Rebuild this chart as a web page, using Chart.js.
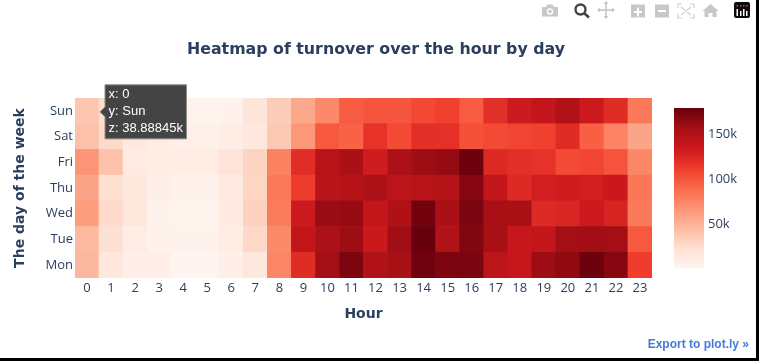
<!DOCTYPE html>
<html>
<head>
<meta charset="utf-8">
<script src="https://cdn.jsdelivr.net/npm/chart.js@4"></script>
<style>
html,body{margin:0;padding:0;background:#000;width:759px;height:361px;overflow:hidden}
#page{position:absolute;left:0;top:0;width:756px;height:358px;background:#fff;overflow:hidden}
#main{position:absolute;left:0;top:0}
#bar{position:absolute;left:660px;top:92px}
#tools{position:absolute;left:0;top:0}
#export{position:absolute;right:7px;top:337px;font:bold 12px "Liberation Sans",Arial,sans-serif;color:#447adb;white-space:nowrap}
</style>
</head>
<body>
<div id="page">
<canvas id="main" width="756" height="358" style="width:756px;height:358px"></canvas>
<canvas id="bar" width="80" height="192" style="width:80px;height:192px"></canvas>
<svg id="tools" width="756" height="24" viewBox="0 0 756 24">
  <g fill="#c8c8c8">
    <path d="M542 7h4l1.5-2.5h5L554 7h4v9.5h-16z"/>
    <circle cx="550" cy="11.5" r="3.2" fill="#fff"/>
    <circle cx="550" cy="11.5" r="1.8"/>
    <path d="M606 2l2.5 3h-1.7v5.2H612V8.5l3 2.5-3 2.5v-1.6h-5.2V17h1.7l-2.5 3-2.5-3h1.7v-5.1H600v1.6l-3-2.5 3-2.5v1.7h5.2V5h-1.7z" transform="translate(0 -1)"/>
    <path fill-rule="evenodd" d="M631 5h14v13h-14zM637 8v3.5h-3v2h3V17h2v-3.5h3v-2h-3V8z" transform="translate(0 -0.5)"/>
    <path fill-rule="evenodd" d="M655 5h14v13h-14zM658 10.5v2h8v-2z" transform="translate(0 -0.5)"/>
    <path d="M711 4l8 7h-2v6h-4v-4h-4v4h-4v-6h-2z" transform="translate(-0.5 0)"/>
  </g>
  <g fill="none" stroke="#d2d2d2" stroke-width="1.2">
    <path d="M678 8V4h4M690 4h4v4M694 14v4h-4M682 18h-4v-4M681 7l10 8M691 7l-10 8"/>
  </g>
  <circle cx="580.5" cy="9.5" r="5" fill="none" stroke="#444" stroke-width="2.4"/>
  <path d="M584 13l5 4.5" stroke="#444" stroke-width="2.6"/>
  <rect x="734" y="2" width="16" height="16" rx="2" fill="#0b0b0b"/>
  <g fill="#fff"><rect x="736.5" y="9" width="1.5" height="7"/><rect x="740" y="11" width="1.5" height="5"/><rect x="743" y="9" width="1.5" height="7"/><rect x="746" y="11" width="1.5" height="5"/></g>
  <g fill="#e6317d"><rect x="736.5" y="5" width="1.5" height="1.5"/><rect x="740" y="5" width="1.5" height="1.5"/><rect x="743" y="5" width="1.5" height="1.5"/><rect x="746" y="5" width="1.5" height="1.5"/></g>
</svg>
<div id="export">Export to plot.ly »</div>
</div>
<script>
const hours = ['0','1','2','3','4','5','6','7','8','9','10','11','12','13','14','15','16','17','18','19','20','21','22','23'];
const days = ['Mon','Tue','Wed','Thu','Fri','Sat','Sun'];
const mon = [47,15,7,7,2,2,7,16,75,122,157,171,150,155,176,171,172,143,138,160,164,177,168,112];
const tue = [46,23,9,5,4,5,10,28,72,140,153,159,135,158,179,150,170,155,136,140,157,158,157,98];
const wed = [62,26,15,5,3,3,13,32,80,134,161,162,139,151,175,154,172,155,155,123,126,134,127,81];
const thu = [58,23,15,7,5,5,13,30,82,112,145,147,153,144,146,148,168,139,123,131,132,131,135,83];
const fri = [66,41,12,10,9,11,19,31,77,121,146,154,132,153,160,163,177,124,120,118,105,108,101,74];
const sat = [42,27,14,10,7,6,9,15,37,65,98,94,118,105,120,119,102,105,108,110,122,95,76,58];
const sun = [38.88845,25,12,8,5,3,5,18,35,56,72,97,100,100,106,110,97,120,133,139,150,134,122,82];
const rows = [mon,tue,wed,thu,fri,sat,sun];
const zMin = 1, zMax = 179;
const colorbarTicks = [50,100,150];
const reds = ['#fff5f0','#fee0d2','#fcbba1','#fc9272','#fb6a4a','#ef3b2c','#cb181d','#a50f15','#67000d'];
const chartTitle = 'Heatmap of turnover over the hour by day';

const ink = '#2a3f5f';
const tickFont = {family:'"Open Sans"', size:13};
const headFont = '"DejaVu Sans"';

function hexRgb(h){return [1,3,5].map(i=>parseInt(h.substr(i,2),16));}
function colorFor(z){
  const t = Math.max(0,Math.min(1,(z-zMin)/(zMax-zMin)))*(reds.length-1);
  const i = Math.min(reds.length-2,Math.floor(t)), f = t-i;
  const a = hexRgb(reds[i]), b = hexRgb(reds[i+1]);
  return 'rgb('+a.map((v,k)=>Math.round(v+(b[k]-v)*f)).join(',')+')';
}

Chart.Tooltip.positioners.cell = function(items){
  if(!items.length) return false;
  const el = items[0].element;
  return {x: el.x + 13, y: el.y + el.height/2 + 1};
};

const heading = {
  id:'heading',
  afterDraw(c){
    const g = c.ctx;
    g.save();
    g.font = 'bold 15.8px '+headFont;
    g.fillStyle = ink;
    g.textAlign = 'center';
    g.textBaseline = 'middle';
    g.fillText(chartTitle,376,50);
    g.restore();
  }
};

const main = new Chart(document.getElementById('main'),{
  type:'bar',
  plugins:[heading],
  data:{
    labels:hours,
    datasets:rows.map((r,i)=>({
      label:days[i],
      data:r.map(()=>[i,i+1]),
      backgroundColor:r.map(colorFor),
      borderWidth:0,
      barPercentage:1,
      categoryPercentage:1
    }))
  },
  options:{
    responsive:false,
    animation:false,
    events:[],
    layout:{autoPadding:false,padding:{left:0,right:104,top:98,bottom:35}},
    scales:{
      x:{
        stacked:true,
        grid:{display:false,drawTicks:false},
        border:{display:false},
        ticks:{color:ink,font:tickFont,padding:2,maxRotation:0,autoSkip:false},
        title:{display:true,text:'Hour',color:ink,font:{family:headFont,size:14,weight:'bold'},padding:0},
        afterFit(s){s.height=45;}
      },
      y:{
        stacked:false,
        min:0,max:7,
        grid:{display:false,drawTicks:false},
        border:{display:false},
        afterBuildTicks(s){s.ticks=days.map((d,i)=>({value:i+0.5}));},
        ticks:{color:ink,font:tickFont,padding:2,autoSkip:false,callback:v=>days[Math.round(v-0.5)]},
        title:{display:true,text:'The day of the week',color:ink,font:{family:headFont,size:14,weight:'bold'},padding:{top:11.6,bottom:0}},
        afterFit(s){s.width=75;}
      }
    },
    plugins:{
      legend:{display:false},
      tooltip:{
        enabled:true,
        position:'cell',
        xAlign:'left',
        yAlign:'center',
        caretSize:5,
        caretPadding:0,
        cornerRadius:0,
        displayColors:false,
        backgroundColor:'#444444',
        borderColor:'#8a8a8a',
        borderWidth:1,
        bodyColor:'#ffffff',
        bodyFont:{family:'"Liberation Sans"',size:13,lineHeight:'17px'},
        bodySpacing:0,
        padding:{x:3.5,y:1.5},
        callbacks:{
          title:()=>'',
          label(ctx){
            return ['x: '+hours[ctx.dataIndex],'y: '+days[ctx.datasetIndex],'z: '+rows[ctx.datasetIndex][ctx.dataIndex]+'k'];
          }
        }
      }
    }
  }
});
main.tooltip.setActiveElements([{datasetIndex:6,index:0}],{x:87,y:111});
main.render();

new Chart(document.getElementById('bar'),{
  type:'bar',
  data:{
    labels:['z'],
    datasets:[{
      data:[[zMin,zMax]],
      borderWidth:0,
      barPercentage:1,
      categoryPercentage:1,
      backgroundColor(ctx){
        const a = ctx.chart.chartArea;
        if(!a) return reds[4];
        const g = ctx.chart.ctx.createLinearGradient(0,a.bottom,0,a.top);
        reds.forEach((c,i)=>g.addColorStop(i/(reds.length-1),c));
        return g;
      }
    }]
  },
  options:{
    responsive:false,
    animation:false,
    events:[],
    layout:{autoPadding:false,padding:{left:14,right:0,top:16,bottom:16}},
    plugins:{legend:{display:false},tooltip:{enabled:false}},
    scales:{
      x:{display:false},
      y:{
        position:'right',
        min:zMin,max:zMax,
        grid:{display:false,drawTicks:false},
        border:{display:false},
        afterBuildTicks(s){s.ticks=colorbarTicks.map(v=>({value:v}));},
        ticks:{color:ink,font:tickFont,padding:4,callback:v=>v+'k'},
        afterFit(s){s.width=36;}
      }
    }
  }
});
</script>
</body>
</html>
